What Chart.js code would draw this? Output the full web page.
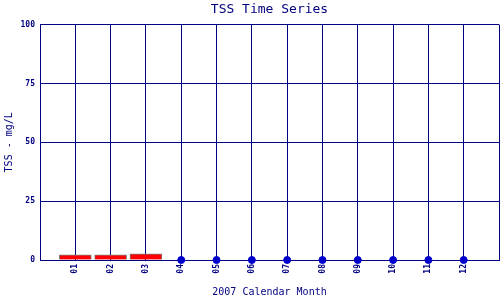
<!DOCTYPE html>
<html>
<head>
<meta charset="utf-8">
<script src="https://cdn.jsdelivr.net/npm/chart.js@4"></script>
<style>
  html, body { margin: 0; padding: 0; background: #fff; }
  #wrap { width: 500px; height: 300px; }
</style>
</head>
<body>
<div id="wrap"><canvas id="tssChart" width="500" height="300"></canvas></div>
<script>
// TSS Time Series, 2007 (mg/L)

// blank slots at each end so grid lines fall at the plot edges
const months = ['', '01', '02', '03', '04', '05', '06', '07', '08', '09', '10', '11', '12', ''];
// measured months shown as bars
const barValues = [null, 2.2, 2.2, 2.6, null, null, null, null, null, null, null, null, null, null];
// months with no detection shown as dots at zero
const pointValues = [null, null, null, null, 0, 0, 0, 0, 0, 0, 0, 0, 0, null];
const yTicks = [0, 25, 50, 75, 100];

const navy = '#000080';
const mono = "'DejaVu Sans Mono', 'Liberation Mono', monospace";

const ctx = document.getElementById('tssChart').getContext('2d');

new Chart(ctx, {
  data: {
    labels: months,
    datasets: [
      {
        type: 'bar',
        label: 'TSS',
        data: barValues,
        backgroundColor: '#ff0000',
        borderColor: '#808080',
        borderWidth: 1,
        barThickness: 32,
        order: 2
      },
      {
        type: 'line',
        label: 'TSS (non-detect)',
        data: pointValues,
        showLine: false,
        clip: false,
        pointRadius: 3.5,
        pointBackgroundColor: '#0000cc',
        pointBorderColor: '#0000cc',
        pointBorderWidth: 1,
        order: 1
      }
    ]
  },
  options: {
    responsive: false,
    animation: false,
    layout: { autoPadding: false, padding: { left: 0, right: 1, top: 0, bottom: 0 } },
    plugins: {
      legend: { display: false },
      tooltip: { enabled: false },
      title: {
        display: true,
        text: 'TSS Time Series',
        color: navy,
        fullSize: false,
        font: { family: mono, size: 13, weight: 'normal' },
        padding: { top: 2, bottom: 7 }
      }
    },
    scales: {
      x: {
        offset: false,
        grid: { color: navy, lineWidth: 1, drawTicks: false, offset: false },
        border: { color: navy, width: 1 },
        ticks: {
          color: navy,
          font: { family: mono, size: 8, weight: 'bold' },
          minRotation: 90,
          maxRotation: 90,
          padding: 4,
          autoSkip: false
        },
        title: {
          display: true,
          text: '2007 Calendar Month',
          color: navy,
          font: { family: mono, size: 10 },
          padding: { top: 0, bottom: 2 }
        },
        afterFit: (scale) => {
          scale.height = 40;
          scale.paddingLeft = 0;
          scale.paddingRight = 0;
        }
      },
      y: {
        min: 0,
        max: 100,
        afterBuildTicks: (scale) => { scale.ticks = yTicks.map((v) => ({ value: v })); },
        grid: { color: navy, lineWidth: 1, drawTicks: false },
        border: { color: navy, width: 1 },
        ticks: {
          color: navy,
          font: { family: mono, size: 8, weight: 'bold' },
          padding: 5
        },
        title: {
          display: true,
          text: 'TSS - mg/L',
          color: navy,
          font: { family: mono, size: 10 },
          padding: { top: 3, bottom: 0 }
        },
        afterFit: (scale) => {
          scale.width = 40;
          scale.paddingTop = 0;
          scale.paddingBottom = 0;
        }
      }
    }
  }
});
</script>
</body>
</html>
